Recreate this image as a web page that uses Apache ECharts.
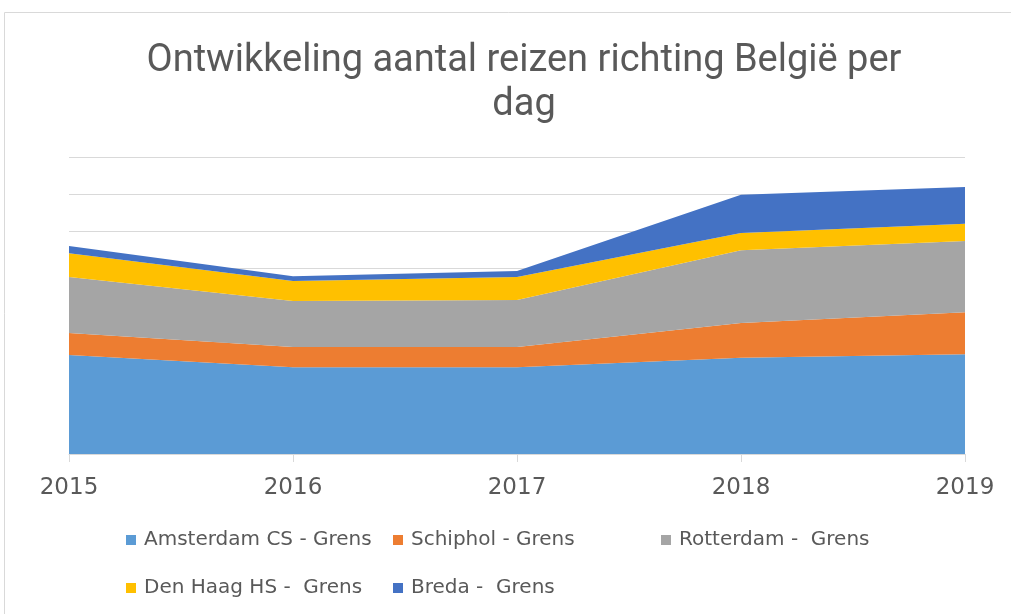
<!DOCTYPE html>
<html>
<head>
<meta charset="utf-8">
<script src="https://cdn.jsdelivr.net/npm/echarts@6/dist/echarts.min.js"></script>
<style>
  html, body { margin: 0; padding: 0; background: #fff; }
  #chart { width: 1011px; height: 614px; }
</style>
</head>
<body>
<div id="chart"></div>
<script>
// years on the x axis
const years = ["2015", "2016", "2017", "2018", "2019"];

// values (in gridline units, y axis has no labels)
const amsterdam = [2.67, 2.34, 2.34, 2.59, 2.69];
const schiphol = [0.59, 0.54, 0.54, 0.94, 1.13];
const rotterdam = [1.51, 1.24, 1.27, 1.96, 1.92];
const denHaag = [0.64, 0.54, 0.62, 0.46, 0.46];
const breda = [0.19, 0.13, 0.16, 1.03, 0.99];

const names = [
    "Amsterdam CS - Grens",
    "Schiphol - Grens",
    "Rotterdam -  Grens",
    "Den Haag HS -  Grens",
    "Breda -  Grens"
];
const colors = ["#5B9BD5", "#ED7D31", "#A5A5A5", "#FFC000", "#4472C4"];
const values = [amsterdam, schiphol, rotterdam, denHaag, breda];

const titleFont = "Roboto, sans-serif";
const font = "'DejaVu Sans', sans-serif";

// legend spots like the excel layout
const legendPos = [[126, 530], [393, 530], [661, 530], [126, 578], [393, 578]];

const chart = echarts.init(document.getElementById("chart"));
chart.setOption({
    animation: false,
    title: {
        text: "Ontwikkeling aantal reizen richting België per\ndag",
        left: 519,
        textAlign: "center",
        top: 34,
        textStyle: {
            fontFamily: titleFont,
            fontSize: 38,
            fontWeight: "normal",
            color: "#595959",
            lineHeight: 44
        }
    },
    graphic: [
        {
            type: "rect",
            shape: { x: 4.5, y: 12.5, width: 1020, height: 620 },
            style: { fill: "none", stroke: "#d9d9d9", lineWidth: 1 },
            silent: true
        }
    ],
    legend: names.map((n, i) => ({
        data: [n],
        left: legendPos[i][0],
        top: legendPos[i][1],
        padding: 0,
        itemWidth: 10,
        itemHeight: 10,
        itemGap: 4,
        icon: "rect",
        textStyle: { fontFamily: font, fontSize: 20, color: "#595959", padding: [0, 0, 0, 3] }
    })),
    grid: { left: 69, right: 46, top: 157, bottom: 160 },
    xAxis: {
        type: "category",
        data: years,
        boundaryGap: false,
        axisLine: { lineStyle: { color: "#d9d9d9", width: 1 } },
        axisTick: { show: true, length: 8, lineStyle: { color: "#d9d9d9" } },
        axisLabel: {
            fontFamily: font,
            fontSize: 23,
            color: "#595959",
            margin: 23
        }
    },
    yAxis: {
        type: "value",
        min: 0,
        max: 8,
        interval: 1,
        axisLabel: { show: false },
        axisLine: { show: false },
        axisTick: { show: false },
        splitLine: { lineStyle: { color: "#d9d9d9", width: 1 } }
    },
    series: values.map((v, i) => ({
        name: names[i],
        type: "line",
        stack: "total",
        data: v,
        symbol: "none",
        color: colors[i],
        lineStyle: { width: 0 },
        areaStyle: { color: colors[i], opacity: 1 }
    }))
});
</script>
</body>
</html>
